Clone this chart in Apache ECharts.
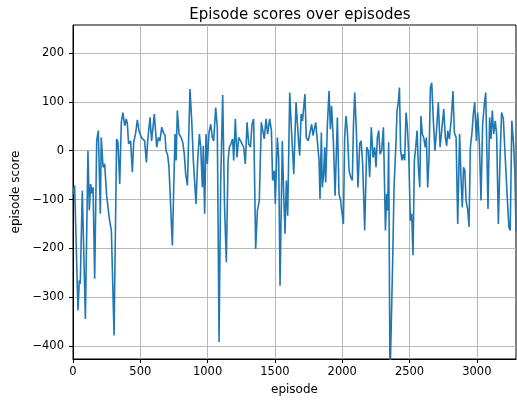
<!DOCTYPE html>
<html>
<head>
<meta charset="utf-8">
<script src="https://cdn.jsdelivr.net/npm/echarts@6/dist/echarts.min.js"></script>
<style>
  html, body { margin: 0; padding: 0; background: #fff; }
  #chart { width: 517px; height: 402px; }
</style>
</head>
<body>
<div id="chart"></div>
<script>
// values
const episodes = [
  0, 12, 37, 47, 54, 69, 92, 111, 121, 131, 141, 149, 161, 176, 188, 203, 210, 223, 235, 250,
  260, 272, 285, 305, 324, 334, 347, 359, 371, 384, 396, 404, 413, 428, 441, 451, 466, 478, 490, 508,
  532, 545, 555, 572, 584, 604, 622, 634, 646, 659, 671, 684, 691, 704, 713, 738, 758, 766, 775, 788,
  803, 815, 827, 837, 850, 869, 882, 894, 904, 914, 926, 939, 949, 961, 968, 978, 988, 998, 1010, 1023,
  1035, 1045, 1060, 1072, 1085, 1097, 1112, 1126, 1139, 1152, 1161, 1174, 1186, 1194, 1206, 1218, 1231, 1243, 1256, 1268,
  1280, 1293, 1305, 1318, 1330, 1342, 1357, 1370, 1384, 1399, 1409, 1421, 1434, 1446, 1461, 1474, 1483, 1496, 1503, 1518,
  1528, 1538, 1555, 1565, 1575, 1585, 1595, 1610, 1622, 1640, 1657, 1677, 1684, 1695, 1705, 1723, 1733, 1748, 1761, 1773,
  1783, 1793, 1803, 1815, 1828, 1835, 1845, 1852, 1862, 1870, 1877, 1890, 1902, 1912, 1921, 1934, 1947, 1964, 1976, 1988,
  1996, 2009, 2018, 2028, 2038, 2051, 2063, 2075, 2083, 2093, 2105, 2117, 2130, 2140, 2152, 2167, 2182, 2194, 2204, 2216,
  2229, 2241, 2251, 2261, 2271, 2281, 2293, 2306, 2321, 2330, 2338, 2345, 2355, 2368, 2375, 2385, 2400, 2407, 2417, 2425,
  2434, 2444, 2454, 2464, 2474, 2484, 2494, 2506, 2516, 2526, 2536, 2546, 2556, 2566, 2576, 2585, 2595, 2605, 2617, 2625,
  2635, 2645, 2655, 2665, 2677, 2689, 2702, 2714, 2727, 2739, 2754, 2766, 2776, 2784, 2796, 2809, 2823, 2833, 2846, 2858,
  2872, 2882, 2892, 2901, 2911, 2920, 2933, 2942, 2952, 2964, 2974, 2984, 2997, 3006, 3019, 3031, 3043, 3056, 3066, 3076,
  3083, 3095, 3105, 3115, 3125, 3137, 3147, 3160, 3172, 3184, 3197, 3211, 3226, 3238, 3248, 3260, 3273, 3283, 3291
];
const scores = [
  -90, -71, -327, -265, -272, -82, -344, 0, -122, -68, -88, -75, -262, 20, 41, -129, 27, -34, -27, -92,
  -95, -143, -163, -378, 24, 17, -68, 58, 78, 51, 65, 54, 14, 20, -44, 17, 37, 63, 41, 27,
  20, -24, 20, 68, 20, 75, 7, 27, 20, 48, 37, 31, 0, -10, -34, -194, 34, -20, 82, 34,
  27, 17, -7, -48, -71, 126, 61, -20, -65, -109, -20, 34, 7, -75, 10, -129, 34, -27, 37, 54,
  27, 20, 88, 48, -391, -68, 114, -116, -228, -20, 7, 14, 24, -20, 65, -14, 27, 27, 14, 7,
  -27, 58, 14, 7, 54, 65, -201, -122, -102, 58, 61, 24, 65, 34, 65, 41, -61, -41, -109, 27,
  -14, -276, 20, -88, -170, -61, -133, 119, 48, -48, 99, 14, -10, 75, 61, 116, 27, 20, 17, 54,
  31, 31, 58, 20, -20, -99, 37, -75, -48, 7, -65, 54, 122, 44, 92, 20, -92, 68, -88, -102,
  -122, -150, 27, 71, 41, -41, -54, -61, 48, 119, 41, -75, 14, 20, -27, -163, 7, 0, -54, 48,
  -14, 7, -34, 27, 41, -7, 0, 48, -163, -88, -122, 17, -470, -470, -224, -75, 20, 82, 99, 129,
  0, -20, -7, -20, 78, 48, -7, -143, -129, -214, -20, 7, 41, -34, -75, 71, 34, 27, 7, 27,
  -75, -14, 129, 139, 61, 0, 48, 99, 7, 41, 85, 27, 10, 41, 24, 61, 122, 37, 27, -150,
  34, -54, -116, -34, -41, -102, -122, -156, 7, 37, 75, 99, 20, 78, 14, -102, 54, 95, 119, -20,
  -119, 68, 24, 82, 34, 61, 34, -150, -20, 78, 65, -14, -95, -156, -163, 61, 14, -48, -165
];
const xTicks = [0, 500, 1000, 1500, 2000, 2500, 3000];
const yTicks = [-400, -300, -200, -100, 0, 100, 200];

const chart = echarts.init(document.getElementById("chart"), null, { renderer: "canvas" });

const font = "DejaVu Sans";
const plain = (v) => String(v).replace("-", "\u2212");

chart.setOption({
  animation: false,
  backgroundColor: "#fff",
  title: {
    text: "Episode scores over episodes",
    left: 295,
    top: 3,
    textAlign: "center",
    textStyle: { fontFamily: font, fontSize: 15, fontWeight: "normal", color: "#000" },
  },
  grid: {
    left: 73, top: 25, right: 1, bottom: 43,
    show: true, borderColor: "#000", borderWidth: 1,
  },
  xAxis: {
    type: "value",
    min: 0,
    max: 3291,
    name: "episode",
    nameLocation: "middle",
    nameGap: 25,
    nameTextStyle: { fontFamily: font, fontSize: 12, color: "#000" },
    axisLine: { show: true, onZero: false, lineStyle: { color: "#000", width: 1 } },
    axisTick: { show: true, length: 4, customValues: xTicks, lineStyle: { color: "#000" } },
    axisLabel: { customValues: xTicks, margin: 7, fontFamily: font, fontSize: 11.5, color: "#000", formatter: plain },
    splitLine: { show: true, lineStyle: { color: "#b8b8b8", width: 1 } },
  },
  yAxis: {
    type: "value",
    min: -426,
    max: 257,
    name: "episode score",
    nameLocation: "middle",
    nameGap: 48,
    nameTextStyle: { fontFamily: font, fontSize: 12, color: "#000" },
    axisLine: { show: true, onZero: false, lineStyle: { color: "#000", width: 1 } },
    axisTick: { show: true, length: 4, customValues: yTicks, lineStyle: { color: "#000" } },
    axisLabel: { customValues: yTicks, margin: 9, fontFamily: font, fontSize: 11.5, color: "#000", formatter: plain },
    splitLine: { show: true, lineStyle: { color: "#b8b8b8", width: 1 } },
  },
  series: [
    {
      type: "line",
      data: episodes.map((e, i) => [e, scores[i]]),
      showSymbol: false,
      clip: true,
      lineStyle: { color: "#1f77b4", width: 1.6 },
    },
  ],
});
</script>
</body>
</html>
